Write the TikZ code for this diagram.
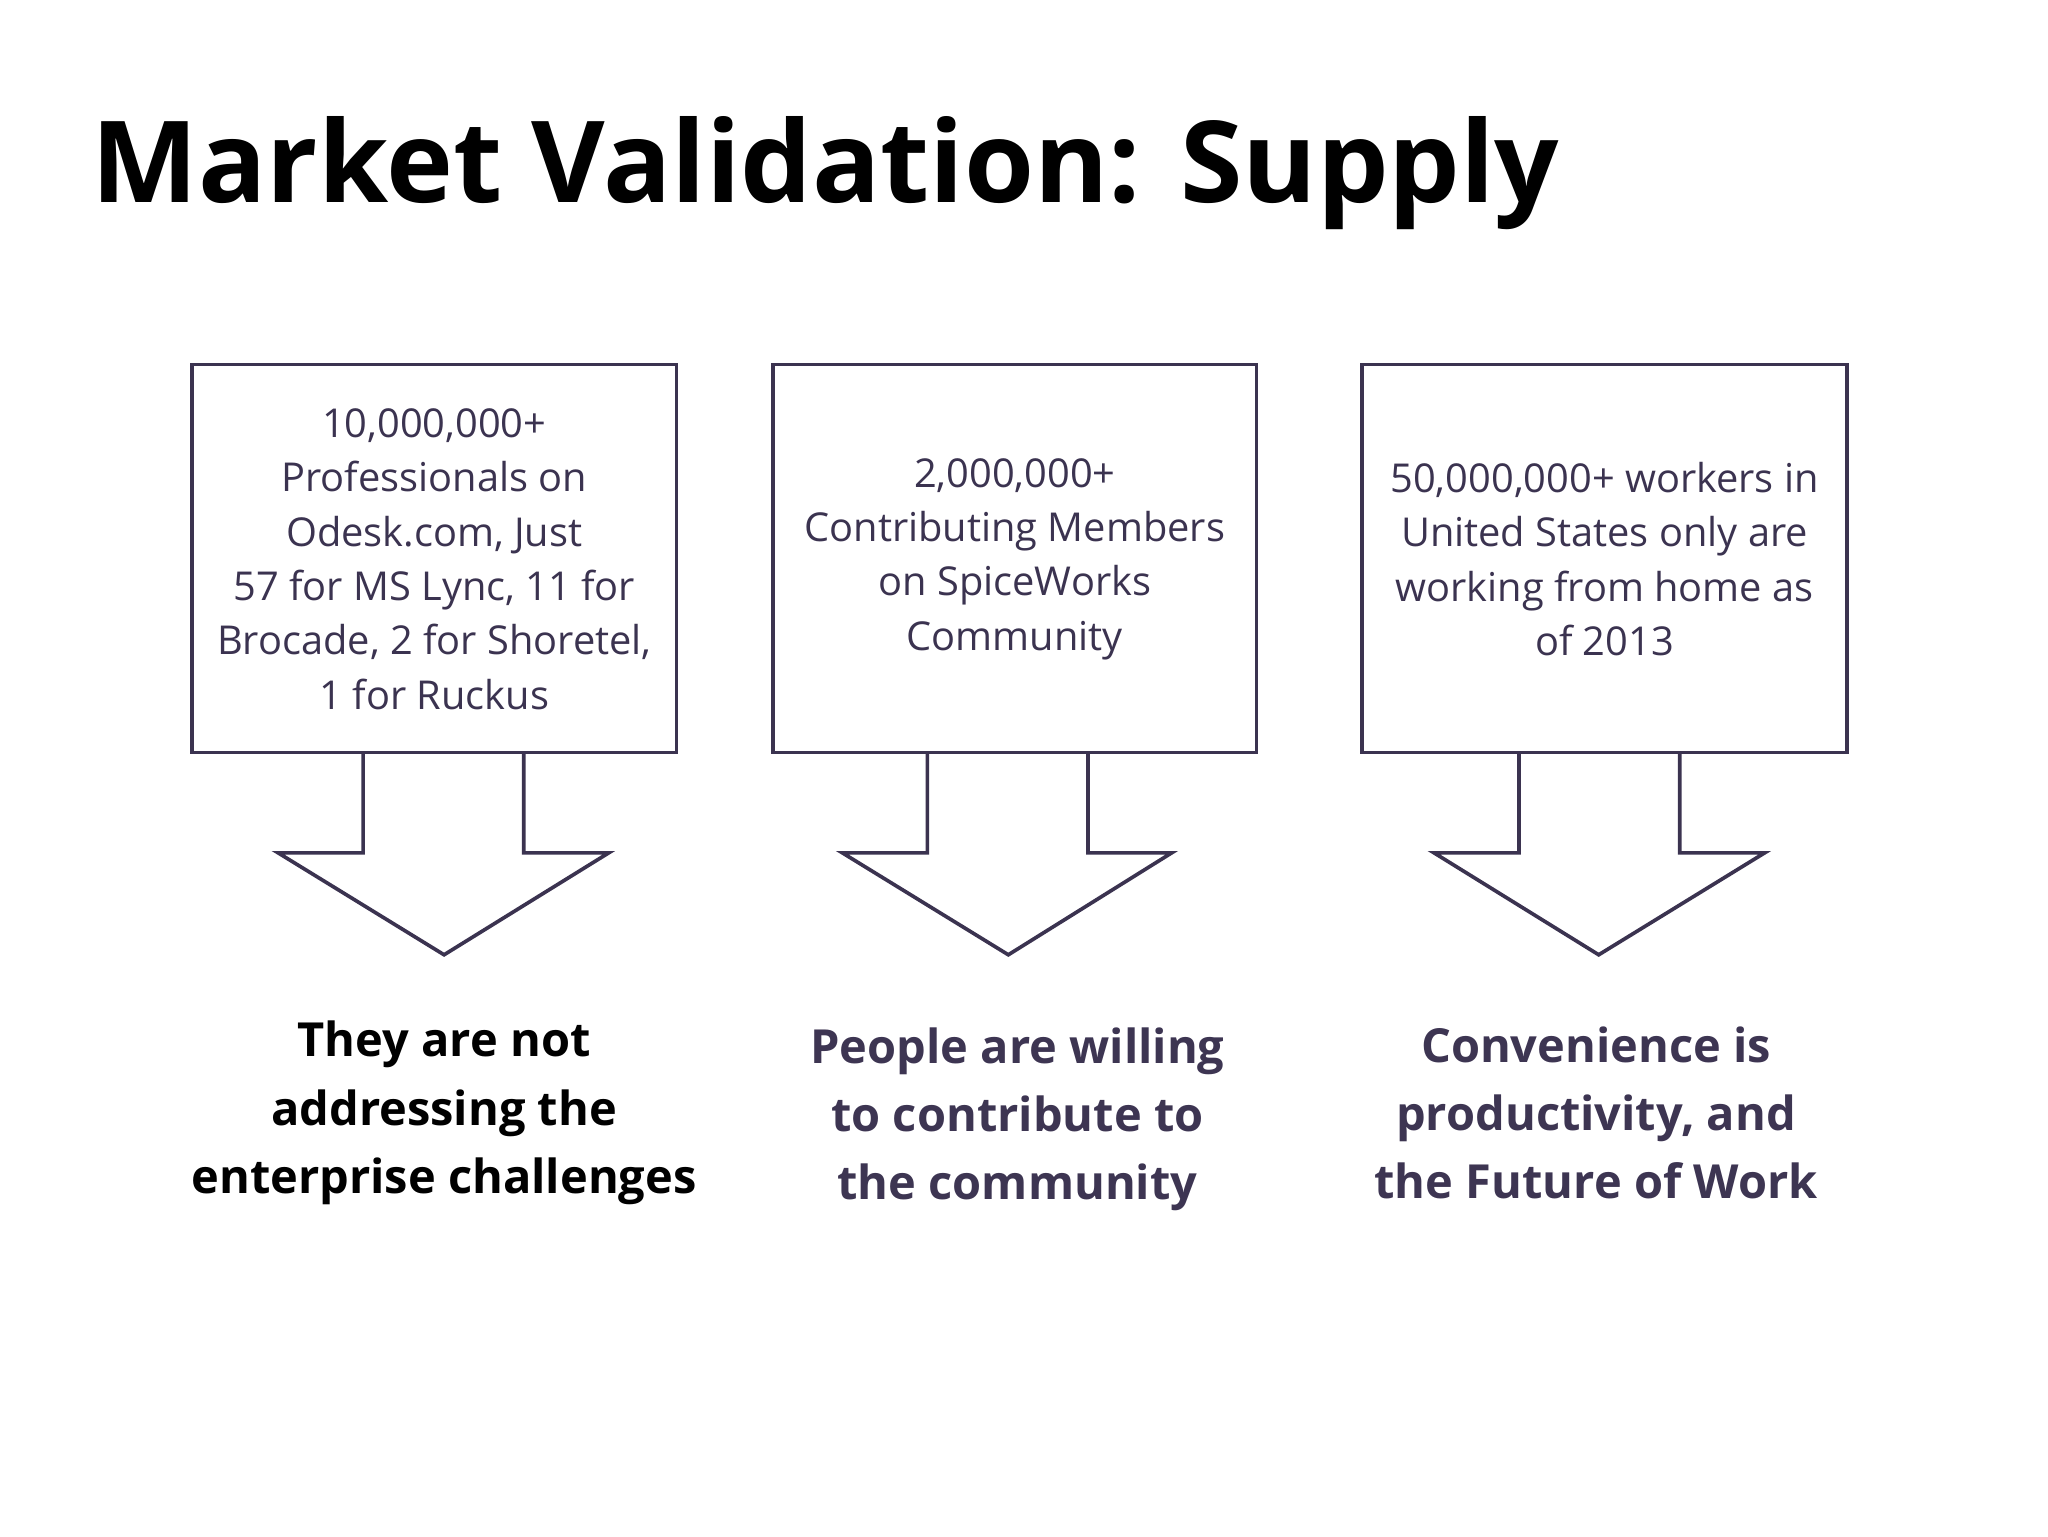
\documentclass[tikz,border=0pt]{standalone}
\usepackage{fontspec}
\setmainfont{Open Sans}[Ligatures=NoCommon]
\definecolor{ink}{HTML}{3B3350}
\definecolor{bink}{HTML}{3D3552}
\begin{document}
\begin{tikzpicture}[x=0.03cm,y=-0.03cm,
  box/.style={draw=ink,line width=2.4pt},
  btext/.style={align=center,text=ink,font=\fontsize{26}{35.5}\selectfont},
  ctext/.style={align=center,font=\bfseries\fontsize{30.7}{44.5}\selectfont},
  arr/.style={draw=ink,line width=2.4pt,line join=miter}]
\useasboundingbox (0,0) rectangle (1568,1176);
\node[anchor=base west,inner sep=0pt,font=\bfseries\fontsize{74}{84}\selectfont] (title) at (70,155) {Market Validation: Supply};
\foreach \n/\xl/\xr in {1/147/518,2/592/962,3/1043/1414}{
  \draw[box] (\xl,279) rectangle (\xr,576);
  \coordinate (c\n) at ({(\xl+\xr)/2},428);
}
\draw[arr] (278,576) -- (278,653) -- (213,653) -- (340,731) -- (466,653) -- (401,653) -- (401,576);
\draw[arr] (710,576) -- (710,653) -- (645,653) -- (772,731) -- (897,653) -- (833,653) -- (833,576);
\draw[arr] (1163,576) -- (1163,653) -- (1098,653) -- (1224,731) -- (1351,653) -- (1286,653) -- (1286,576);
\node[btext] (t1) at (c1) {10,000,000+\\Professionals on\\Odesk.com, Just\\57 for MS Lync, 11 for\\Brocade, 2 for Shoretel,\\1 for Ruckus};
\node[btext] (t2) at (c2) {2,000,000+\\Contributing Members\\on SpiceWorks\\Community};
\node[btext] (t3) at (c3) {50,000,000+ workers in\\United States only are\\working from home as\\of 2013};
\node[ctext] (b1) at (340,852) {They are not\\addressing the\\enterprise challenges};
\node[ctext,text=bink] (b2) at (779,857) {People are willing\\to contribute to\\the community};
\node[ctext,text=bink] (b3) at (1222,852) {Convenience is\\productivity, and\\the Future of Work};
\end{tikzpicture}
\end{document}
